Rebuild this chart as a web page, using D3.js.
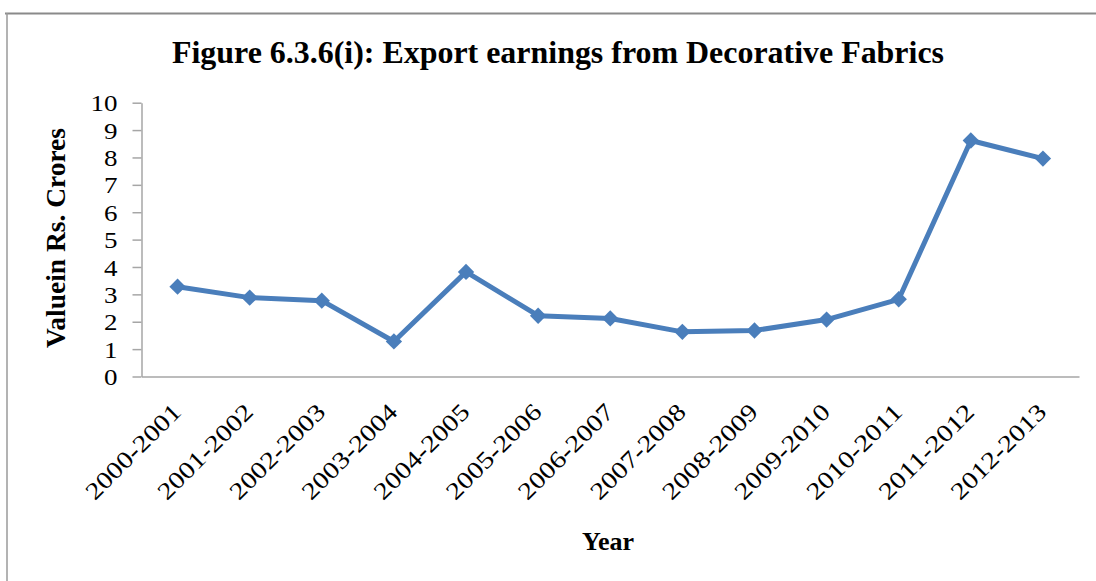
<!DOCTYPE html>
<html>
<head>
<meta charset="utf-8">
<script src="https://cdn.jsdelivr.net/npm/d3@7"></script>
<style>
  html, body { margin: 0; padding: 0; background: #fff; }
  svg { display: block; }
  text { font-family: "Liberation Serif", "Times New Roman", serif; fill: #000; }
</style>
</head>
<body>
<svg id="chart" width="1096" height="581"></svg>
<script>
// Export earnings from decorative fabrics, Rs. crores per financial year
const years = ["2000-2001", "2001-2002", "2002-2003", "2003-2004", "2004-2005",
               "2005-2006", "2006-2007", "2007-2008", "2008-2009", "2009-2010",
               "2010-2011", "2011-2012", "2012-2013"];
const earnings = [3.28, 2.88, 2.77, 1.28, 3.82, 2.22, 2.12, 1.63, 1.68, 2.08, 2.82, 8.62, 7.96];
const yTicks = [0, 1, 2, 3, 4, 5, 6, 7, 8, 9, 10];

const titleText = "Figure 6.3.6(i): Export earnings from Decorative Fabrics";
const yLabel = "Valuein Rs. Crores";
const xLabel = "Year";

const svg = d3.select("#chart");
const plot = { left: 141.5, right: 1079, top: 102.7, bottom: 376.5 };
const axisColor = "#a6a6a6";
const lineColor = "#4a7ebb";

// outer chart frame (top and left edges)
svg.append("line").attr("x1", 5).attr("x2", 1096).attr("y1", 13.5).attr("y2", 13.5)
  .attr("stroke", "#8a8a8a").attr("stroke-width", 2);
svg.append("line").attr("x1", 7).attr("x2", 7).attr("y1", 13).attr("y2", 581)
  .attr("stroke", "#9a9a9a").attr("stroke-width", 1.5);

const x = d3.scaleBand().domain(years).range([plot.left, plot.right]).padding(0);
const y = d3.scaleLinear().domain([0, 10]).range([plot.bottom, plot.top]);
const cx = d => x(d) + x.bandwidth() / 2;

// title
svg.append("text")
  .attr("x", 558).attr("y", 63)
  .attr("text-anchor", "middle")
  .attr("font-size", 32).attr("font-weight", "bold")
  .attr("textLength", 772).attr("lengthAdjust", "spacingAndGlyphs")
  .text(titleText);

// y axis
const yAxis = svg.append("g")
  .attr("transform", `translate(${plot.left},0)`)
  .call(d3.axisLeft(y).tickValues(yTicks).tickSize(9).tickPadding(15).tickSizeOuter(0));
yAxis.select(".domain").attr("stroke", axisColor).attr("stroke-width", 1.5);
yAxis.selectAll(".tick line").attr("stroke", axisColor).attr("stroke-width", 1.5);
yAxis.selectAll(".tick text")
  .attr("font-family", "Liberation Serif, serif")
  .attr("font-size", 23).attr("fill", "#000")
  .attr("dy", "0.35em")
  .attr("textLength", d => String(d).length * 13.5)
  .attr("lengthAdjust", "spacingAndGlyphs");

// x axis
const xAxis = svg.append("g")
  .attr("transform", `translate(0,${plot.bottom})`)
  .call(d3.axisBottom(x).tickSize(0).tickSizeOuter(0).tickFormat(""));
xAxis.select(".domain").attr("stroke", axisColor).attr("stroke-width", 1.5);

// rotated category labels
svg.append("g").selectAll("text")
  .data(years)
  .join("text")
  .attr("transform", d => `translate(${cx(d) + 5},${plot.bottom + 37}) rotate(-45)`)
  .attr("text-anchor", "end")
  .attr("font-size", 24)
  .attr("textLength", 124).attr("lengthAdjust", "spacingAndGlyphs")
  .text(d => d);

// axis titles
svg.append("text")
  .attr("transform", `translate(65,238) rotate(-90)`)
  .attr("text-anchor", "middle")
  .attr("font-size", 27).attr("font-weight", "bold")
  .attr("textLength", 220).attr("lengthAdjust", "spacingAndGlyphs")
  .text(yLabel);

svg.append("text")
  .attr("x", 608).attr("y", 550)
  .attr("text-anchor", "middle")
  .attr("font-size", 26).attr("font-weight", "bold")
  .text(xLabel);

// series line
const line = d3.line().x((d, i) => cx(years[i])).y(d => y(d));
svg.append("path")
  .datum(earnings)
  .attr("d", line)
  .attr("fill", "none")
  .attr("stroke", lineColor)
  .attr("stroke-width", 5)
  .attr("stroke-linejoin", "round");

// diamond markers
const diamond = d3.symbol().type(d3.symbolDiamond2).size(170);
svg.append("g").selectAll("path")
  .data(earnings)
  .join("path")
  .attr("transform", (d, i) => `translate(${cx(years[i])},${y(d)})`)
  .attr("d", diamond)
  .attr("fill", lineColor);
</script>
</body>
</html>
